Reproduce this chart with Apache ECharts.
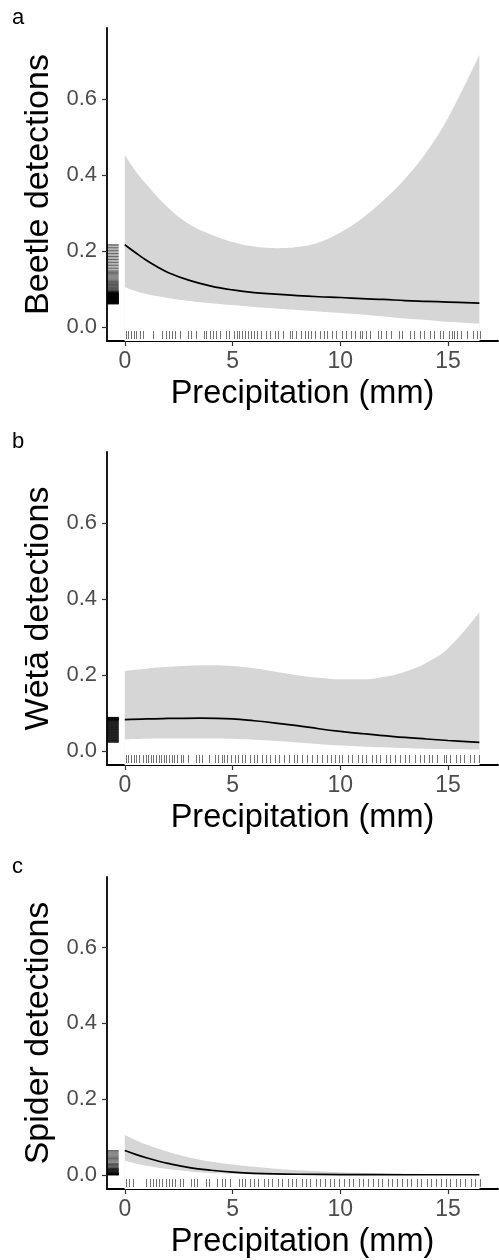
<!DOCTYPE html>
<html>
<head>
<meta charset="utf-8">
<script src="https://cdn.jsdelivr.net/npm/echarts@6/dist/echarts.min.js"></script>
<style>
html,body{margin:0;padding:0;background:#fff;}
#chart{width:499px;height:1260px;}
</style>
</head>
<body>
<div id="chart"></div>
<script>
// ---------- data ----------
const panelLetters = ['a', 'b', 'c'];
const yTitles = ['Beetle detections', 'Wētā detections', 'Spider detections'];
const xTitle = 'Precipitation (mm)';
const xTicks = [0, 5, 10, 15];
const yTicks = [0, 0.2, 0.4, 0.6];

// fitted lines [precip, detections]
const fitA = [[0,0.216],[0.5,0.195],[1,0.175],[1.5,0.158],[2,0.143],[3,0.122],[4,0.107],[5,0.097],[6,0.09],[7,0.086],[8,0.082],[9,0.079],[10,0.077],[11,0.074],[12,0.072],[13,0.069],[14,0.067],[15,0.065],[16.45,0.062]];
const upperA = [[0,0.453],[0.5,0.41],[1,0.375],[2,0.314],[3,0.27],[4,0.243],[5,0.223],[6,0.211],[7,0.207],[8,0.21],[9,0.222],[10,0.248],[11,0.285],[12,0.333],[13,0.39],[14,0.46],[15,0.55],[16.45,0.716]];
const lowerA = [[0,0.105],[0.5,0.094],[1,0.086],[2,0.076],[3,0.068],[4,0.062],[5,0.057],[6,0.052],[7,0.048],[8,0.044],[9,0.04],[10,0.036],[11,0.032],[12,0.027],[13,0.022],[14,0.018],[15,0.013],[16.45,0.008]];

const fitB = [[0,0.082],[1,0.084],[2,0.085],[3.5,0.086],[5,0.084],[6,0.079],[7,0.073],[8,0.066],[9,0.058],[10,0.051],[11,0.045],[12,0.04],[13,0.035],[14,0.031],[15,0.027],[16.45,0.022]];
const upperB = [[0,0.21],[1,0.216],[2,0.221],[3,0.224],[4,0.225],[5,0.223],[6,0.217],[7,0.208],[8,0.199],[9,0.192],[10,0.188],[11,0.188],[12,0.194],[13,0.208],[14,0.232],[15,0.27],[16.45,0.365]];
const lowerB = [[0,0.03],[2,0.032],[4,0.032],[6,0.029],[8,0.022],[10,0.014],[12,0.009],[14,0.005],[16.45,0.003]];

const fitC = [[0,0.064],[0.5,0.054],[1,0.045],[1.5,0.037],[2,0.03],[3,0.019],[4,0.012],[5,0.007],[6,0.004],[8,0.0015],[10,0.0007],[13,0.0002],[16.45,0.0001]];
const upperC = [[0,0.105],[0.5,0.092],[1,0.08],[2,0.061],[3,0.046],[4,0.035],[5,0.027],[6,0.021],[7,0.016],[8,0.012],[10,0.007],[12,0.004],[14,0.002],[16.45,0.001]];
const lowerC = [[0,0.037],[0.5,0.03],[1,0.024],[2,0.015],[3,0.009],[4,0.005],[5,0.003],[6,0.0015],[8,0.0004],[10,0.0001],[16.45,0]];

// rug: precipitation of survey nights
const xRugA = [0.05,0.17,0.29,0.42,0.54,0.7,0.85,1.31,1.75,1.9,2.06,2.21,2.35,2.58,2.94,3.09,3.29,3.66,3.79,3.94,4.1,4.22,4.44,4.68,4.84,5.06,5.21,5.3,5.44,5.57,5.72,5.84,6.0,6.12,6.34,6.53,6.73,6.96,7.11,7.34,7.65,7.76,7.96,8.16,8.35,8.5,8.66,8.81,9.04,9.25,9.4,9.62,9.82,10.08,10.28,10.48,10.67,10.9,11.02,11.18,11.36,11.75,11.9,12.14,12.37,12.72,12.88,13.22,13.4,13.68,13.87,14.15,14.33,14.61,14.76,15.04,15.17,15.29,15.41,15.62,15.88,16.15,16.34,16.48];
const xRugB = [0.05,0.17,0.29,0.41,0.53,0.66,0.85,0.97,1.09,1.21,1.33,1.45,1.57,1.69,1.81,1.93,2.05,2.17,2.29,2.41,2.6,2.72,2.95,3.3,3.45,3.57,3.9,4.2,4.33,4.5,4.62,4.74,4.95,5.1,5.25,5.42,5.6,5.8,6.0,6.15,6.35,6.55,6.75,6.95,7.15,7.4,7.6,7.85,8.0,8.2,8.45,8.7,8.9,9.15,9.4,9.55,9.75,9.95,10.1,10.35,10.55,10.8,11.0,11.2,11.45,11.65,11.85,12.1,12.3,12.55,12.75,13.0,13.2,13.45,13.7,13.9,14.1,14.25,14.5,14.8,14.9,15.1,15.35,15.55,15.75,16.0,16.2,16.45];
const xRugC = [0.05,0.2,0.36,1.0,1.15,1.3,1.45,1.6,1.75,1.9,2.05,2.2,2.35,2.55,2.7,3.05,3.2,3.35,3.75,3.9,4.3,4.5,4.65,4.9,5.3,5.45,5.6,5.8,6.0,6.2,6.45,6.65,6.85,7.1,7.3,7.55,7.75,7.95,8.2,8.4,8.6,8.85,9.05,9.3,9.5,9.7,9.95,10.15,10.4,10.6,10.85,11.05,11.3,11.5,11.75,11.95,12.2,12.4,12.65,12.85,13.1,13.3,13.55,13.75,14.0,14.2,14.45,14.65,14.9,15.1,15.35,15.55,15.8,16.05,16.25,16.48];

// rug: fitted detections of survey nights
const yRugA = [0.216,0.213,0.209,0.205,0.201,0.197,0.193,0.189,0.185,0.181,0.177,0.173,0.169,0.165,0.161,0.157,0.153,0.149,0.146,0.143,0.14,0.137,0.134,0.131,0.128,0.125,0.122,0.119,0.117,0.115,0.113,0.111,0.109,0.107,0.105,0.103,0.101,0.099,0.097,0.096,0.094,0.093,0.092,0.091,0.09,0.0895,0.089,0.0885,0.088,0.0875,0.087,0.0865,0.086,0.0855,0.085,0.0845,0.084,0.0835,0.083,0.0825,0.082,0.0815,0.081,0.0805,0.080,0.0795,0.079,0.0785,0.078,0.0775,0.077,0.0765,0.076,0.0755,0.075,0.0745,0.074,0.0735,0.073,0.0725,0.072,0.0715,0.071,0.0705,0.070,0.0695,0.069,0.0685,0.068,0.0675,0.067,0.0665,0.066,0.0655,0.065,0.0645,0.064,0.0635,0.063,0.0625,0.062,0.0615,0.061,0.0605,0.06];
const yRugB = [0.088,0.0875,0.087,0.0865,0.086,0.0855,0.085,0.0845,0.084,0.0835,0.083,0.0825,0.082,0.0815,0.081,0.0805,0.080,0.079,0.078,0.077,0.076,0.075,0.074,0.073,0.072,0.071,0.070,0.069,0.068,0.067,0.066,0.065,0.064,0.063,0.062,0.061,0.060,0.059,0.058,0.057,0.056,0.055,0.054,0.053,0.052,0.051,0.050,0.049,0.048,0.047,0.046,0.045,0.044,0.043,0.042,0.041,0.040,0.039,0.038,0.037,0.036,0.035,0.034,0.033,0.032,0.031,0.030,0.029,0.028,0.027,0.026,0.025,0.024,0.023,0.022];
const yRugC = [0.064,0.061,0.058,0.055,0.052,0.049,0.046,0.043,0.04,0.037,0.034,0.031,0.029,0.027,0.025,0.023,0.021,0.019,0.017,0.016,0.015,0.014,0.013,0.012,0.011,0.01,0.009,0.008,0.007,0.006,0.005,0.0045,0.004,0.0035,0.003,0.0025,0.002,0.0015,0.001,0.0008,0.0006,0.0004,0.0002,0.0001,0];

const panels = [
  {fit: fitA, upper: upperA, lower: lowerA, xRug: xRugA, yRug: yRugA},
  {fit: fitB, upper: upperB, lower: lowerB, xRug: xRugB, yRug: yRugB},
  {fit: fitC, upper: upperC, lower: lowerC, xRug: xRugC, yRug: yRugC}
];

// ---------- layout / style ----------
const X_MIN = -0.8245, X_MAX = 17.3145;
const Y_MIN = -0.0375, Y_MAX = 0.7866;
const gridTops = [28, 452, 877];
const GRID_H = 313;
const FONT = '"Liberation Sans", Arial, Helvetica, sans-serif';
const RIBBON = '#d6d6d6';
const RUG = 'rgba(0,0,0,0.55)';
const YRUG = 'rgba(0,0,0,0.6)';

const grids = [], xAxes = [], yAxes = [], series = [], graphics = [];

panels.forEach((p, i) => {
  grids.push({left: 107, right: 1, top: gridTops[i], height: GRID_H, containLabel: false});
  xAxes.push({
    gridIndex: i, type: 'value', min: X_MIN, max: X_MAX,
    axisLine: {show: true, onZero: false, lineStyle: {color: '#000', width: 1.8}},
    axisTick: {show: true, customValues: xTicks, length: 5, lineStyle: {color: '#333', width: 1.2}},
    axisLabel: {customValues: xTicks, color: '#4d4d4d', fontSize: 23, fontFamily: FONT, margin: 9},
    splitLine: {show: false},
    name: xTitle, nameLocation: 'middle', nameGap: 37,
    nameTextStyle: {fontSize: 32.5, color: '#000', fontFamily: FONT}
  });
  yAxes.push({
    gridIndex: i, type: 'value', min: Y_MIN, max: Y_MAX,
    axisLine: {show: true, onZero: false, lineStyle: {color: '#000', width: 1.8}},
    axisTick: {show: true, customValues: yTicks, length: 5, lineStyle: {color: '#333', width: 1.2}},
    axisLabel: {customValues: yTicks, color: '#4d4d4d', fontSize: 22, fontFamily: FONT, margin: 10,
      formatter: v => v.toFixed(1)},
    splitLine: {show: false},
    name: yTitles[i], nameLocation: 'middle', nameGap: 47, nameRotate: 90,
    nameTextStyle: {fontSize: 34, color: '#000', fontFamily: FONT}
  });
  // ribbon: grey upper area, then white lower area
  series.push({
    type: 'line', xAxisIndex: i, yAxisIndex: i, data: p.upper, smooth: 0.4,
    showSymbol: false, silent: true, lineStyle: {width: 0},
    areaStyle: {color: RIBBON, opacity: 1, origin: 'start'}, z: 1
  });
  series.push({
    type: 'line', xAxisIndex: i, yAxisIndex: i, data: p.lower, smooth: 0.4,
    showSymbol: false, silent: true, lineStyle: {width: 0},
    areaStyle: {color: '#ffffff', opacity: 1, origin: 'start'}, z: 2
  });
  series.push({
    type: 'line', xAxisIndex: i, yAxisIndex: i, data: p.fit, smooth: 0.4,
    showSymbol: false, silent: true, lineStyle: {color: '#000', width: 1.7}, z: 3
  });
  // x rug
  series.push({
    type: 'custom', xAxisIndex: i, yAxisIndex: i, silent: true, z: 4,
    data: p.xRug.map(v => [v, 0]),
    encode: {x: 0, y: 1},
    renderItem: (params, api) => {
      const pt = api.coord([api.value(0), Y_MIN]);
      const x = Math.round(pt[0]) + 0.5;
      return {type: 'line', shape: {x1: x, y1: pt[1] - 2, x2: x, y2: pt[1] - 10},
        style: {stroke: RUG, lineWidth: 1}};
    }
  });
  // y rug
  series.push({
    type: 'custom', xAxisIndex: i, yAxisIndex: i, silent: true, z: 4,
    data: p.yRug.map(v => [0, v]),
    encode: {x: 0, y: 1},
    renderItem: (params, api) => {
      const pt = api.coord([X_MIN, api.value(1)]);
      return {type: 'line', shape: {x1: pt[0], y1: pt[1], x2: pt[0] + 11.7, y2: pt[1]},
        style: {stroke: YRUG, lineWidth: 1}};
    }
  });
  graphics.push({type: 'text', left: 12, top: gridTops[i] - 21,
    style: {text: panelLetters[i], fill: '#000', font: '22px ' + FONT}});
});

const chart = echarts.init(document.getElementById('chart'), null, {renderer: 'canvas'});
chart.setOption({
  animation: false,
  backgroundColor: '#ffffff',
  grid: grids, xAxis: xAxes, yAxis: yAxes, series: series, graphic: graphics
});
</script>
</body>
</html>
